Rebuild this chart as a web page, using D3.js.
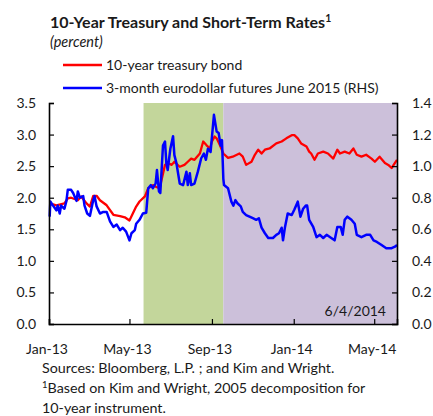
<!DOCTYPE html>
<html><head><meta charset="utf-8">
<script src="https://cdn.jsdelivr.net/npm/d3@7"></script>
<style>
body{margin:0;background:#fff;}
text{font-family:Lato,"Open Sans",sans-serif;fill:#1a1a1a;}
</style></head>
<body><svg id="c" width="433" height="416"></svg>
<script>
// ---- data ----
const treasuryDates = ["2013-01-02","2013-01-12","2013-01-24","2013-01-29","2013-02-03","2013-02-13","2013-02-18","2013-02-26","2013-03-03","2013-03-08","2013-03-13","2013-03-18","2013-03-28","2013-04-07","2013-04-17","2013-04-24","2013-05-01","2013-05-06","2013-05-11","2013-05-16","2013-05-24","2013-05-29","2013-06-05","2013-06-10","2013-06-15","2013-06-23","2013-06-27","2013-07-03","2013-07-07","2013-07-15","2013-07-22","2013-07-27","2013-08-01","2013-08-06","2013-08-14","2013-08-19","2013-08-24","2013-08-29","2013-09-01","2013-09-05","2013-09-08","2013-09-13","2013-09-18","2013-09-25","2013-10-02","2013-10-12","2013-10-17","2013-10-22","2013-10-30","2013-11-04","2013-11-09","2013-11-14","2013-11-19","2013-11-26","2013-12-06","2013-12-14","2013-12-21","2013-12-29","2014-01-02","2014-01-07","2014-01-12","2014-01-20","2014-01-24","2014-01-27","2014-02-01","2014-02-06","2014-02-14","2014-02-21","2014-03-01","2014-03-07","2014-03-11","2014-03-18","2014-03-25","2014-03-31","2014-04-05","2014-04-12","2014-04-19","2014-04-27","2014-05-02","2014-05-09","2014-05-17","2014-05-22","2014-05-27","2014-05-30","2014-06-04"];
const treasuryValues = [1.91,1.88,1.91,1.99,2.00,1.96,2.02,1.91,1.86,2.03,2.03,1.96,1.88,1.73,1.71,1.69,1.64,1.75,1.86,1.94,2.02,2.15,2.20,2.17,2.15,2.52,2.55,2.52,2.57,2.49,2.52,2.57,2.62,2.60,2.70,2.89,2.83,2.78,2.89,2.97,2.94,2.83,2.70,2.63,2.65,2.70,2.65,2.52,2.57,2.68,2.76,2.70,2.76,2.78,2.86,2.89,2.94,2.99,2.99,2.94,2.86,2.81,2.73,2.70,2.60,2.70,2.73,2.70,2.62,2.76,2.70,2.73,2.70,2.78,2.68,2.65,2.68,2.62,2.57,2.65,2.55,2.52,2.47,2.52,2.60];
const futuresDates = ["2013-01-02","2013-01-03","2013-01-07","2013-01-12","2013-01-14","2013-01-17","2013-01-19","2013-01-24","2013-01-27","2013-01-29","2013-02-03","2013-02-06","2013-02-11","2013-02-13","2013-02-16","2013-02-21","2013-02-23","2013-02-27","2013-03-03","2013-03-08","2013-03-10","2013-03-13","2013-03-18","2013-03-23","2013-03-28","2013-04-02","2013-04-07","2013-04-12","2013-04-17","2013-04-21","2013-04-26","2013-05-01","2013-05-04","2013-05-09","2013-05-11","2013-05-16","2013-05-21","2013-05-26","2013-05-29","2013-06-02","2013-06-05","2013-06-09","2013-06-11","2013-06-14","2013-06-16","2013-06-20","2013-06-23","2013-06-25","2013-06-27","2013-07-01","2013-07-05","2013-07-07","2013-07-10","2013-07-15","2013-07-20","2013-07-25","2013-07-27","2013-07-30","2013-08-01","2013-08-06","2013-08-11","2013-08-16","2013-08-20","2013-08-23","2013-08-26","2013-08-30","2013-09-04","2013-09-08","2013-09-11","2013-09-14","2013-09-16","2013-09-18","2013-09-19","2013-09-25","2013-09-30","2013-10-03","2013-10-06","2013-10-09","2013-10-14","2013-10-17","2013-10-22","2013-10-27","2013-11-01","2013-11-06","2013-11-10","2013-11-14","2013-11-19","2013-11-24","2013-12-01","2013-12-06","2013-12-10","2013-12-14","2013-12-16","2013-12-19","2013-12-23","2013-12-29","2014-01-02","2014-01-07","2014-01-11","2014-01-15","2014-01-19","2014-01-21","2014-01-24","2014-01-30","2014-02-04","2014-02-09","2014-02-14","2014-02-19","2014-02-26","2014-03-03","2014-03-07","2014-03-12","2014-03-15","2014-03-18","2014-03-22","2014-03-28","2014-04-02","2014-04-05","2014-04-12","2014-04-19","2014-04-25","2014-04-30","2014-05-05","2014-05-12","2014-05-19","2014-05-27","2014-06-01","2014-06-04"];
const futuresValues = [0.68,0.776,0.75,0.72,0.75,0.70,0.75,0.73,0.78,0.85,0.85,0.83,0.78,0.84,0.80,0.81,0.75,0.70,0.685,0.785,0.81,0.745,0.70,0.71,0.71,0.65,0.615,0.63,0.595,0.61,0.585,0.53,0.575,0.595,0.635,0.66,0.70,0.705,0.86,0.88,0.86,0.89,0.975,0.84,0.83,1.13,1.155,1.02,0.975,1.11,1.19,1.07,1.02,0.89,0.88,0.965,0.88,0.955,0.88,0.89,0.965,1.05,1.08,1.04,1.11,1.09,1.325,1.22,1.21,1.13,1.165,0.92,0.88,0.86,0.775,0.75,0.785,0.765,0.745,0.71,0.69,0.68,0.67,0.66,0.67,0.61,0.575,0.545,0.545,0.565,0.575,0.61,0.53,0.615,0.70,0.69,0.725,0.775,0.68,0.73,0.75,0.75,0.66,0.615,0.55,0.565,0.545,0.565,0.545,0.53,0.615,0.615,0.565,0.66,0.68,0.66,0.635,0.565,0.55,0.565,0.565,0.53,0.52,0.50,0.48,0.48,0.49,0.50];
const periodStarts = ["2013-05-22","2013-09-18"];
const periodEnds = ["2013-09-18","2014-06-04"];
const periodColors = ["#c3d69b","#ccc0da"];
const leftTicks = [0,0.5,1.0,1.5,2.0,2.5,3.0,3.5];
const rightTicks = [0,0.2,0.4,0.6,0.8,1.0,1.2,1.4];
const xTickDates = ["2013-01-01","2013-05-01","2013-09-01","2014-01-01","2014-05-01"];
const seriesNames = ["10-year treasury bond","3-month eurodollar futures June 2015 (RHS)"];
const seriesColors = ["#ff0000","#0000ff"];

// ---- chart ----
const parse = d3.timeParse("%Y-%m-%d");
const W=433,H=416, m={l:49,r:36,t:103,b:92};
const svg=d3.select("#c");
const x=d3.scaleTime().domain([parse("2013-01-01"),parse("2014-06-04")]).range([m.l,W-m.r]);
const yL=d3.scaleLinear().domain([0,3.5]).range([H-m.b,m.t]);
const yR=d3.scaleLinear().domain([0,1.4]).range([H-m.b,m.t]);

svg.selectAll("rect.period").data(periodStarts).enter().append("rect")
 .attr("x",(d)=>x(parse(d))).attr("y",m.t)
 .attr("width",(d,i)=>x(parse(periodEnds[i]))-x(parse(d)))
 .attr("height",H-m.b-m.t).attr("fill",(d,i)=>periodColors[i]);

const tr=treasuryDates.map((d,i)=>({d:parse(d),v:treasuryValues[i]}));
const fu=futuresDates.map((d,i)=>({d:parse(d),v:futuresValues[i]}));
svg.append("path").datum(tr).attr("fill","none").attr("stroke",seriesColors[0]).attr("stroke-width",2.3)
 .attr("stroke-linejoin","round").attr("d",d3.line().x(d=>x(d.d)).y(d=>yL(d.v)));
svg.append("path").datum(fu).attr("fill","none").attr("stroke",seriesColors[1]).attr("stroke-width",2.5)
 .attr("stroke-linejoin","round").attr("d",d3.line().x(d=>x(d.d)).y(d=>yR(d.v)));

const fmt1=d3.format(".1f");
const gl=svg.append("g").attr("transform",`translate(${m.l},0)`)
 .call(d3.axisRight(yL).tickValues(leftTicks).tickSize(5).tickFormat(""));
const gr=svg.append("g").attr("transform",`translate(${W-m.r},0)`)
 .call(d3.axisLeft(yR).tickValues(rightTicks).tickSize(5).tickFormat(""));
const gb=svg.append("g").attr("transform",`translate(0,${H-m.b})`)
 .call(d3.axisTop(x).tickValues(xTickDates.map(parse)).tickSize(5).tickFormat(""));
[gl,gr,gb].forEach(g=>{g.select(".domain").attr("stroke","#000").attr("stroke-width",1.6);g.selectAll(".tick line").attr("stroke","#000").attr("stroke-width",1.2);});

svg.selectAll("text.yl").data(leftTicks).enter().append("text")
 .attr("x",36).attr("y",d=>yL(d)+5).attr("text-anchor","end").attr("font-size",14).text(fmt1);
svg.selectAll("text.yr").data(rightTicks).enter().append("text")
 .attr("x",412).attr("y",d=>yR(d)+5).attr("text-anchor","start").attr("font-size",14).text(fmt1);
svg.selectAll("text.xl").data(xTickDates).enter().append("text")
 .attr("x",d=>x(parse(d))-2).attr("y",354).attr("text-anchor","middle").attr("font-size",14)
 .text(d=>d3.timeFormat("%b-%y")(parse(d)));

svg.append("text").attr("x",386).attr("y",316).attr("text-anchor","end").attr("font-size",14).text("6/4/2014");

const title=svg.append("text").attr("x",50).attr("y",28).attr("font-size",16).attr("font-weight","bold");
title.append("tspan").text("10-Year Treasury and Short-Term  Rates");
title.append("tspan").attr("font-size",10.5).attr("dy",-6).text("1");
svg.append("text").attr("x",50).attr("y",47).attr("font-size",14.5).attr("font-style","italic").text("(percent)");

const lg=svg.selectAll("g.lg").data(seriesNames).enter().append("g").attr("transform",(d,i)=>`translate(0,${65+i*23})`);
lg.append("line").attr("x1",63).attr("x2",102).attr("y1",0).attr("y2",0).attr("stroke",(d,i)=>seriesColors[i]).attr("stroke-width",2.5);
lg.append("text").attr("x",106).attr("y",5).attr("font-size",14).text(d=>d);

svg.append("text").attr("x",42).attr("y",373).attr("font-size",14.3).text("Sources:  Bloomberg, L.P. ; and Kim and Wright.");
const fn=svg.append("text").attr("x",42).attr("y",393).attr("font-size",14.3);
fn.append("tspan").attr("font-size",9.5).attr("dy",-5).text("1");
fn.append("tspan").attr("dy",5).text("Based on Kim and Wright, 2005 decomposition for");
svg.append("text").attr("x",42).attr("y",413).attr("font-size",14.3).text("10-year instrument.");
</script></body></html>
